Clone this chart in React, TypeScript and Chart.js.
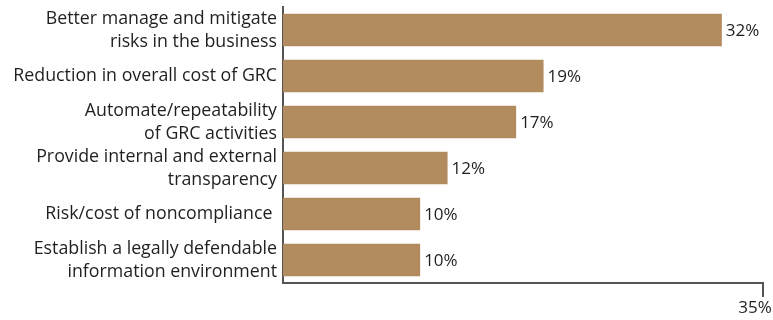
import React, { useEffect, useRef } from "react";
import { Chart, registerables } from "chart.js";

Chart.register(...registerables);

const categories: (string | string[])[] = [
  ["Better manage and mitigate", "risks in the business"],
  "Reduction in overall cost of GRC",
  ["Automate/repeatability", "of GRC activities"],
  ["Provide internal and external", "transparency"],
  "Risk/cost of noncompliance ",
  ["Establish a legally defendable", "information environment"],
];
const values = [32, 19, 17, 12, 10, 10];
const xTickValues = [35];
const xMax = 35;

const FONT = "'Open Sans', sans-serif";
const BAR = "#B28B5F";
const AXIS = "#555555";
const TEXT = "#1f1f1f";

const valueLabels = {
  id: "valueLabels",
  afterDatasetsDraw(chart: any) {
    const ctx = chart.ctx;
    const meta = chart.getDatasetMeta(0);
    ctx.save();
    ctx.font = `17px ${FONT}`;
    ctx.fillStyle = TEXT;
    ctx.textAlign = "left";
    ctx.textBaseline = "middle";
    meta.data.forEach((bar: any, i: number) => {
      ctx.fillText(`${values[i]}%`, bar.x + 4, bar.y + 1);
    });
    ctx.restore();
  },
};

export default function App() {
  const ref = useRef<HTMLCanvasElement>(null);
  useEffect(() => {
    document.body.style.margin = "0";
    const chart = new Chart(ref.current!, {
      type: "bar",
      data: {
        labels: categories,
        datasets: [
          {
            data: values,
            backgroundColor: BAR,
            borderWidth: 0,
            barPercentage: 0.71,
            categoryPercentage: 1,
          },
        ],
      },
      plugins: [valueLabels],
      options: {
        indexAxis: "y",
        animation: false,
        responsive: false,
        maintainAspectRatio: false,
        layout: { padding: { left: 0, right: 10, top: 7, bottom: 0 } },
        plugins: { legend: { display: false }, tooltip: { enabled: false } },
        scales: {
          y: {
            grid: { display: false, drawTicks: false },
            border: { display: true, color: AXIS, width: 2 },
            ticks: {
              autoSkip: false,
              padding: 6,
              color: TEXT,
              font: { family: FONT, size: 17.8, lineHeight: 1.3 },
            },
            afterFit(scale: any) {
              scale.width = 283;
              scale.paddingTop = 0;
              scale.paddingBottom = 0;
            },
          },
          x: {
            min: 0,
            max: xMax,
            afterBuildTicks(scale: any) {
              scale.ticks = xTickValues.map((v) => ({ value: v }));
            },
            grid: {
              display: true,
              drawOnChartArea: false,
              drawTicks: true,
              tickLength: 14,
              lineWidth: 2,
              color: AXIS,
            },
            border: { display: true, color: AXIS, width: 2 },
            ticks: {
              padding: 1,
              labelOffset: -8,
              color: TEXT,
              font: { family: FONT, size: 17 },
              callback: (v: any) => `${v}%`,
            },
            afterFit(scale: any) {
              scale.height = 37;
              scale.paddingLeft = 0;
              scale.paddingRight = 0;
            },
          },
        },
      },
    });
    return () => chart.destroy();
  }, []);
  return <canvas ref={ref} width={773} height={320} style={{ display: "block" }} />;
}
